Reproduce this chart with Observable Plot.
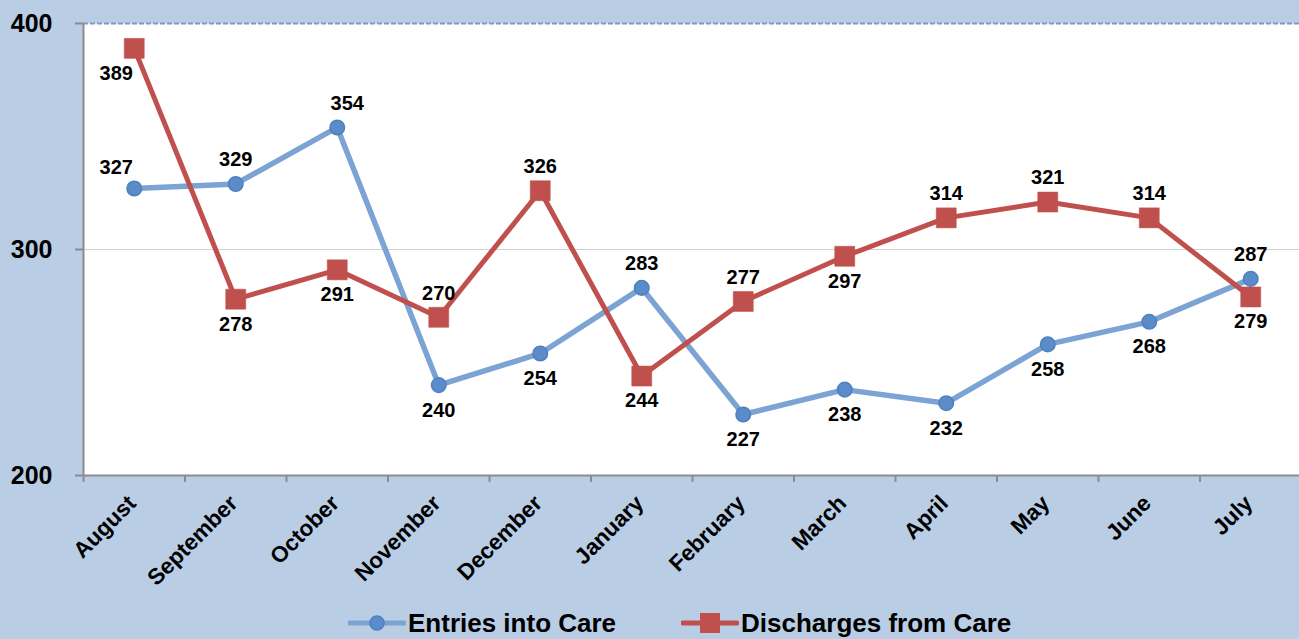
<!DOCTYPE html>
<html>
<head>
<meta charset="utf-8">
<script src="https://cdn.jsdelivr.net/npm/d3@7"></script>
<script src="https://cdn.jsdelivr.net/npm/@observablehq/plot@0.6"></script>
<style>
  html, body { margin: 0; padding: 0; background: #B9CDE5; width: 1299px; height: 639px; overflow: hidden; }
  #chart svg { display: block; background: #B9CDE5; }
  #legend { position: relative; height: 41px; font-family: "Liberation Sans", Arial, sans-serif; font-weight: bold; font-size: 26px; }
  .item { position: absolute; top: 7px; height: 36px; display: flex; align-items: center; white-space: nowrap; }
</style>
</head>
<body>
<div id="chart"></div>
<div id="legend"></div>
<script>
const months = ["August","September","October","November","December","January","February","March","April","May","June","July"];
const entries = [327, 329, 354, 240, 254, 283, 227, 238, 232, 258, 268, 287];
const discharges = [389, 278, 291, 270, 326, 244, 277, 297, 314, 321, 314, 279];
const entryLabelSide = ["above-left","above","above-right","below","below","above","below","below","below","below","below","above"];
const dischargeLabelSide = ["below-left","below","below","above","above","below","above","below","above","above","above","below"];
const yTicks = [200, 300, 400];

const blueLine = "#7BA3D4", blueMark = "#5B8BC9", blueStroke = "#4F81BD";
const red = "#C0504D";
const font = "'Liberation Sans', Arial, sans-serif";

const E = months.map((m, i) => ({i, month: m, value: entries[i], side: entryLabelSide[i]}));
const D = months.map((m, i) => ({i, month: m, value: discharges[i], side: dischargeLabelSide[i]}));

const dyOf = s => s === "above-left" ? -21 : s.startsWith("above") ? -24 : 25;
const dxOf = s => s.endsWith("left") ? -18 : s.endsWith("right") ? 10 : 0;
function labels(data) {
  const groups = d3.groups(data, d => d.side);
  return groups.map(([side, rows]) => Plot.text(rows, {
    x: "i", y: "value", text: d => String(d.value),
    dy: dyOf(side), dx: dxOf(side),
    fontSize: 20, fontWeight: "bold", fill: "black", fontFamily: font
  }));
}

const boundaries = d3.range(-0.5, months.length, 1);

const chart = Plot.plot({
  width: 1299,
  height: 598,
  marginLeft: 83,
  marginRight: 0,
  marginTop: 23,
  marginBottom: 123,
  style: {fontFamily: font, background: "#B9CDE5", overflow: "visible"},
  x: {domain: [-0.5, months.length - 0.5], range: [83, 1301]},
  y: {domain: [200, 400]},
  marks: [
    Plot.frame({fill: "white", stroke: null}),
    Plot.ruleY([300], {stroke: "#D0D0D0", strokeWidth: 1}),
    Plot.ruleY([400], {stroke: "#7E9CC6", strokeWidth: 2, strokeDasharray: "5,2"}),
    Plot.ruleY([200], {stroke: "#8C8C8C", strokeWidth: 2}),
    Plot.ruleX([-0.5], {stroke: "#8C8C8C", strokeWidth: 2}),
    Plot.axisY({ticks: yTicks, tickSize: 8, tickPadding: 23, stroke: "#8C8C8C", strokeWidth: 2,
      tickFormat: d => String(d), fontSize: 25, fontWeight: "bold", fill: "black", label: null}),
    Plot.axisX({ticks: boundaries, tickSize: 7, tickFormat: () => "", stroke: "#8C8C8C", strokeWidth: 2, label: null}),
    Plot.axisX({ticks: d3.range(months.length), tickSize: 0, tickFormat: i => months[i], tickRotate: -45,
      tickPadding: 24, fontSize: 22.5, fontWeight: "bold", fill: "black", label: null, dx: -2}),
    Plot.line(E, {x: "i", y: "value", stroke: blueLine, strokeWidth: 5.5}),
    Plot.line(D, {x: "i", y: "value", stroke: red, strokeWidth: 5}),
    Plot.dot(E, {x: "i", y: "value", r: 7.3, fill: blueMark, stroke: blueStroke, strokeWidth: 1.5}),
    Plot.dot(D, {x: "i", y: "value", symbol: "square", r: 11.3, fill: red, stroke: red, strokeWidth: 0.5}),
    ...labels(E),
    ...labels(D)
  ]
});
document.getElementById("chart").appendChild(chart);

// Legend
const legend = d3.select("#legend");
const items = [
  {label: "Entries into Care", color: blueLine, markFill: blueMark, markStroke: blueStroke, symbol: "circle", left: 348},
  {label: "Discharges from Care", color: red, markFill: red, markStroke: red, symbol: "square", left: 681}
];
items.forEach(it => {
  const div = legend.append("div").attr("class", "item").style("left", it.left + "px");
  const svg = div.append("svg").attr("width", 58).attr("height", 22).style("margin-right", "2px");
  svg.append("line").attr("x1", 2).attr("x2", 56).attr("y1", 11).attr("y2", 11)
    .attr("stroke", it.color).attr("stroke-width", 5).attr("stroke-linecap", "round");
  if (it.symbol === "circle") {
    svg.append("circle").attr("cx", 29).attr("cy", 11).attr("r", 7).attr("fill", it.markFill).attr("stroke", it.markStroke).attr("stroke-width", 1.5);
  } else {
    svg.append("rect").attr("x", 19).attr("y", 1).attr("width", 20).attr("height", 20).attr("fill", it.markFill);
  }
  div.append("span").text(it.label);
});
</script>
</body>
</html>
